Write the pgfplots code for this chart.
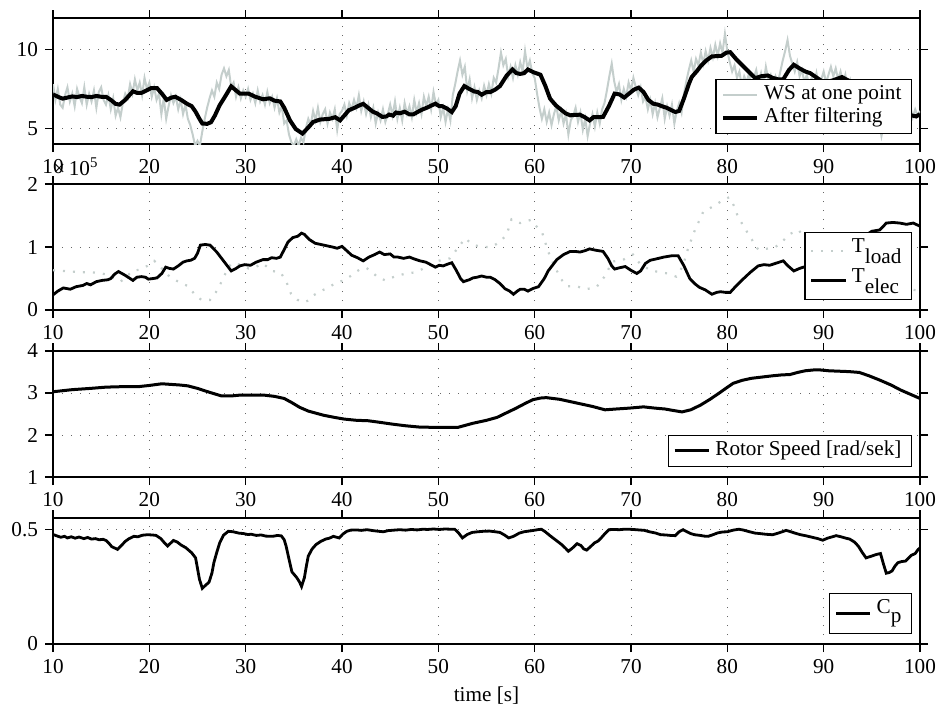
\documentclass[border=0pt]{standalone}
\usepackage{fontspec}
\setmainfont{Liberation Serif}
\usepackage{pgfplots}
\pgfplotsset{compat=1.18}
\definecolor{wsgray}{RGB}{196,206,204}
\pgfplotsset{
  panel/.style={
    scale only axis, width=433.5pt, height=63pt,
    xmin=10, xmax=100, xtick={10,20,...,100},
    tick align=outside, major tick length=4pt,
    tick style={black, line width=0.6pt},
    axis line style={line width=0.8pt},
    grid=major,
    major grid style={black!60, line width=0.5pt, dash pattern=on 0.5pt off 4pt},
    /pgf/number format/assume math mode=true,
    legend cell align=left,
    legend style={at={(rel axis cs:1,0)}, anchor=south east, xshift=-4pt, yshift=5pt,
      draw=black, line width=0.6pt, fill=white, inner xsep=2.5pt, inner ysep=2pt,
      nodes={inner xsep=2.5pt, inner ysep=1pt, text depth={}}},
  },
}
\begin{document}
\begin{tikzpicture}[font=\fontsize{10.6}{12.7}\selectfont]
\path[use as bounding box] (-26.5pt,0pt) rectangle (443.5pt,354.5pt);

% wind speed
\begin{axis}[panel, at={(0,282.5pt)}, anchor=south west, ymin=4, ymax=12, ytick={5,10}]
\addplot[wsgray, line width=1pt] coordinates {
(10,7.8)(10.25,6.8)(10.5,7.5)(10.75,6.5)(11,6.3)(11.25,7.1)(11.5,7.6)(11.75,6.7)
(12,7.2)(12.25,6.4)(12.5,7.5)(12.75,7.0)(13,6.6)(13.25,7.6)(13.5,6.5)(13.75,7.2)
(14,6.7)(14.25,7.4)(14.5,6.3)(14.75,7.3)(15,7.6)(15.25,6.8)(15.5,6.5)(15.75,7.1)
(16,6.2)(16.25,6.9)(16.5,5.8)(16.75,6.3)(17,5.7)(17.25,6.6)(17.5,7.2)(17.75,6.9)
(18,7.8)(18.25,7.2)(18.5,8.1)(18.75,7.4)(19,7.9)(19.25,7.1)(19.5,8.2)(19.75,7.5)
(20,7.9)(20.25,7.0)(20.5,7.6)(20.75,6.8)(21,7.2)(21.25,5.9)(21.5,6.9)(21.75,5.6)
(22,6.4)(22.25,7.1)(22.5,6.6)(22.75,7.0)(23,6.2)(23.25,6.8)(23.5,5.9)(23.75,6.5)
(24,5.6)(24.25,5.2)(24.5,4.6)(24.75,3.9)(25,4.2)(25.25,3.9)(25.5,4.8)(25.75,5.6)
(26,6.3)(26.25,6.9)(26.5,7.4)(26.75,7.0)(27,7.9)(27.25,7.5)(27.5,8.4)(27.75,8.8)
(28,8.3)(28.25,8.7)(28.5,7.6)(28.75,7.9)(29,7.0)(29.25,7.6)(29.5,6.9)(29.75,7.4)
(30,7.0)(30.25,7.5)(30.5,6.8)(30.75,7.2)(31,6.6)(31.25,7.4)(31.5,6.7)(31.75,7.1)
(32,6.5)(32.25,7.3)(32.5,6.6)(32.75,7.0)(33,6.3)(33.25,6.9)(33.5,6.0)(33.75,6.4)
(34,5.3)(34.25,5.5)(34.5,4.6)(34.75,4.1)(35,3.9)(35.25,4.3)(35.5,3.9)(35.75,4.4)
(36,4.1)(36.25,5.0)(36.5,5.6)(36.75,5.2)(37,6.1)(37.25,5.5)(37.5,6.3)(37.75,5.4)
(38,5.9)(38.25,6.2)(38.5,5.3)(38.75,6.0)(39,5.6)(39.25,6.2)(39.5,4.9)(39.75,5.9)
(40,6.1)(40.25,6.5)(40.5,5.8)(40.75,6.6)(41,6.2)(41.25,6.8)(41.5,6.3)(41.75,7.1)
(42,6.1)(42.25,6.7)(42.5,5.9)(42.75,6.5)(43,5.7)(43.25,6.3)(43.5,5.3)(43.75,6.0)
(44,5.5)(44.25,6.2)(44.5,5.4)(44.75,5.9)(45,6.5)(45.25,5.8)(45.5,6.7)(45.75,5.6)
(46,6.3)(46.25,5.5)(46.5,6.6)(46.75,5.9)(47,6.4)(47.25,5.7)(47.5,6.8)(47.75,6.0)
(48,6.6)(48.25,5.9)(48.5,7.0)(48.75,6.4)(49,7.0)(49.25,6.2)(49.5,7.3)(49.75,6.5)
(50,6.8)(50.25,5.7)(50.5,6.3)(50.75,5.4)(51,6.2)(51.25,5.5)(51.5,7.1)(51.75,7.8)
(52,8.6)(52.25,9.3)(52.5,8.4)(52.75,8.9)(53,7.4)(53.25,8.1)(53.5,6.9)(53.75,7.6)
(54,6.8)(54.25,7.4)(54.5,6.9)(54.75,7.7)(55,7.1)(55.25,7.8)(55.5,7.2)(55.75,8.2)
(56,7.9)(56.25,8.8)(56.5,9.8)(56.75,9.0)(57,9.4)(57.25,8.3)(57.5,8.9)(57.75,8.2)
(58,9.0)(58.25,8.4)(58.5,9.2)(58.75,8.6)(59,9.9)(59.25,8.8)(59.5,9.3)(59.75,8.5)
(60,8.2)(60.25,7.2)(60.5,6.3)(60.75,5.6)(61,6.2)(61.25,5.4)(61.5,6.0)(61.75,5.2)
(62,5.9)(62.25,6.4)(62.5,5.5)(62.75,6.1)(63,5.3)(63.25,5.9)(63.5,4.6)(63.75,5.5)
(64,5.8)(64.25,6.3)(64.5,5.4)(64.75,6.0)(65,4.9)(65.25,5.6)(65.5,4.5)(65.75,5.3)
(66,5.9)(66.25,5.1)(66.5,6.0)(66.75,5.3)(67,6.2)(67.25,6.6)(67.5,7.4)(67.75,8.3)
(68,9.1)(68.25,8.0)(68.5,7.3)(68.75,7.8)(69,6.8)(69.25,7.5)(69.5,7.0)(69.75,7.9)
(70,7.4)(70.25,8.2)(70.5,7.6)(70.75,7.1)(71,7.6)(71.25,6.7)(71.5,7.0)(71.75,6.2)
(72,6.8)(72.25,5.9)(72.5,6.6)(72.75,5.7)(73,6.3)(73.25,6.9)(73.5,5.6)(73.75,6.4)
(74,5.8)(74.25,6.5)(74.5,5.3)(74.75,6.1)(75,6.6)(75.25,6.0)(75.5,7.2)(75.75,8.0)
(76,8.7)(76.25,9.3)(76.5,8.6)(76.75,9.4)(77,9.0)(77.25,9.8)(77.5,9.1)(77.75,9.9)
(78,9.3)(78.25,10.1)(78.5,9.5)(78.75,10.3)(79,9.6)(79.25,10.4)(79.5,9.8)(79.75,11.0)
(80,9.9)(80.25,9.2)(80.5,8.6)(80.75,9.0)(81,8.2)(81.25,8.6)(81.5,7.7)(81.75,8.3)
(82,7.9)(82.25,8.5)(82.5,7.6)(82.75,8.2)(83,8.7)(83.25,7.9)(83.5,8.5)(83.75,7.8)
(84,8.9)(84.25,8.1)(84.5,8.4)(84.75,7.8)(85,8.3)(85.25,7.9)(85.5,8.6)(85.75,9.3)
(86,9.9)(86.25,10.6)(86.5,9.6)(86.75,9.1)(87,8.6)(87.25,9.2)(87.5,8.3)(87.75,8.7)
(88,7.9)(88.25,8.4)(88.5,7.7)(88.75,8.2)(89,7.8)(89.25,8.5)(89.5,7.6)(89.75,8.1)
(90,8.6)(90.25,7.9)(90.5,8.4)(90.75,8.9)(91,8.3)(91.25,8.8)(91.5,8.1)(91.75,8.6)
(92,7.9)(92.25,8.4)(92.5,7.4)(92.75,8.0)(93,7.1)(93.25,7.5)(93.5,6.6)(93.75,6.9)
(94,6.1)(94.25,6.6)(94.5,5.7)(94.75,6.1)(95,5.3)(95.25,5.8)(95.5,4.9)(95.75,5.4)
(96,4.5)(96.25,5.2)(96.5,5.7)(96.75,5.1)(97,5.9)(97.25,5.4)(97.5,6.2)(97.75,5.6)
(98,6.0)(98.25,5.5)(98.5,6.3)(98.75,5.8)(99,6.4)(99.25,5.7)(99.5,6.2)(99.75,5.8)
(100,6.1)};
\addlegendentry{WS at one point}
\addplot[black, line width=2pt] coordinates {
(10,7.15)(10.5,7.0)(11,6.88)(11.5,6.95)(12,7.02)(12.5,6.98)(13,7.05)(13.5,7.0)
(14,6.98)(14.5,7.05)(15,7.0)(15.5,7.0)(16,6.8)(16.5,6.55)(16.9,6.5)(17.5,6.8)
(18.3,7.35)(18.7,7.25)(19.2,7.25)(19.7,7.4)(20.2,7.55)(20.8,7.55)(21.3,7.2)(21.8,6.8)
(22.3,6.95)(22.7,7.0)(23.3,6.8)(23.9,6.56)(24.4,6.4)(24.8,6.05)(25.2,5.6)(25.5,5.3)
(26.0,5.28)(26.4,5.38)(26.8,5.8)(27.3,6.46)(27.9,7.05)(28.5,7.66)(29.0,7.4)(29.4,7.2)
(30.3,7.2)(31.0,7.0)(31.8,6.84)(32.5,6.9)(33.0,6.75)(33.6,6.7)(34.0,6.3)(34.6,5.5)
(35.2,4.95)(35.9,4.66)(36.5,5.05)(37.0,5.4)(37.7,5.55)(38.7,5.6)(39.3,5.7)(39.8,5.5)
(40.3,5.85)(40.7,6.14)(41.3,6.3)(41.8,6.45)(42.2,6.55)(42.7,6.3)(43.2,6.05)(43.6,5.95)
(44.2,5.72)(44.6,5.75)(44.9,5.87)(45.3,5.8)(45.6,6.0)(46.0,5.95)(46.5,6.05)(47.0,5.88)
(47.4,5.88)(47.9,6.05)(48.3,6.18)(48.8,6.3)(49.3,6.45)(49.7,6.56)(50.1,6.4)(50.4,6.4)
(50.9,6.25)(51.4,6.03)(51.8,6.4)(52.2,7.2)(52.7,7.68)(53.2,7.5)(53.7,7.34)(54.1,7.3)
(54.5,7.13)(55.0,7.3)(55.4,7.3)(55.9,7.45)(56.4,7.68)(57.1,8.35)(57.7,8.73)(58.1,8.5)
(58.5,8.45)(58.9,8.5)(59.3,8.73)(59.9,8.55)(60.6,8.4)(61.1,7.7)(61.6,6.88)(62.2,6.45)
(62.7,6.2)(63.2,5.95)(63.7,5.82)(64.2,5.85)(64.7,5.86)(65.2,5.7)(65.7,5.5)(66.1,5.7)
(66.6,5.7)(67.1,5.72)(67.7,6.4)(68.3,7.2)(68.8,7.15)(69.3,6.95)(69.8,7.2)(70.3,7.45)
(70.8,7.58)(71.3,7.3)(71.8,6.8)(72.3,6.56)(72.8,6.5)(73.2,6.4)(73.7,6.3)(74.2,6.15)
(74.6,6.03)(75.0,6.1)(75.5,6.9)(76.0,7.8)(76.3,8.25)(76.8,8.6)(77.3,8.99)(77.8,9.3)
(78.4,9.56)(78.9,9.58)(79.4,9.6)(79.9,9.8)(80.3,9.83)(80.9,9.4)(81.5,9.03)(82.2,8.6)
(82.9,8.18)(83.5,8.3)(84.2,8.35)(84.7,8.2)(85.3,8.1)(85.8,8.1)(86.4,8.7)(86.9,9.03)
(87.5,8.8)(88.1,8.6)(88.6,8.5)(89.3,8.2)(89.8,8.0)(90.3,7.93)(91.0,8.05)(91.9,8.25)
(92.5,8.05)(92.9,7.95)(93.5,7.6)(94.2,7.0)(95.0,6.4)(95.8,6.0)(96.5,5.9)(97.3,5.8)
(98.0,5.75)(98.7,5.8)(99.1,5.82)(99.6,5.75)(100,5.9)};
\addlegendentry{After filtering}
\end{axis}

% torques
\begin{axis}[panel, name=torque, at={(0,199.5pt)}, anchor=south west, ymin=0, ymax=2, ytick={0,1,2},
  legend style={row sep=0.5pt}]
\addplot[wsgray, line width=1.1pt, dash pattern=on 1pt off 4pt] coordinates {
(10,0.63)(11,0.62)(12,0.61)(13,0.6)(14,0.6)(15,0.58)(15.7,0.56)(16.3,0.5)(17,0.45)
(17.6,0.52)(18.2,0.62)(19,0.64)(19.8,0.7)(20.5,0.78)(21,0.72)(21.6,0.6)(22.2,0.52)
(23,0.45)(24,0.38)(24.7,0.25)(25.4,0.16)(26.3,0.16)(26.9,0.28)(27.4,0.42)(27.9,0.58)
(28.5,0.74)(29.5,0.72)(30.3,0.66)(31,0.68)(31.8,0.74)(32.7,0.62)(33.6,0.6)(34.2,0.46)
(34.7,0.26)(35.4,0.16)(36,0.12)(36.5,0.15)(37,0.23)(37.8,0.3)(38.6,0.36)(39.5,0.44)
(40.2,0.47)(40.9,0.54)(41.8,0.64)(42.5,0.67)(43,0.62)(43.7,0.52)(44.5,0.47)(45.6,0.54)
(46.7,0.58)(47.7,0.6)(48.7,0.68)(50,0.78)(51.2,0.82)(52.1,1.0)(52.8,1.14)(53.5,1.04)
(54.5,1.0)(55.5,1.0)(56.4,1.08)(57.1,1.2)(57.6,1.44)(58.5,1.38)(59.6,1.43)(60,1.36)
(60.8,1.22)(61.4,0.93)(61.9,0.75)(62.7,0.5)(63.3,0.38)(64.5,0.37)(65.3,0.33)(66.4,0.36)
(67.2,0.52)(68.1,0.77)(69.1,0.79)(70.2,0.88)(70.9,0.74)(72,0.63)(73,0.6)(73.8,0.58)
(74.7,0.53)(75.4,0.7)(75.8,0.92)(76.5,1.22)(77.5,1.56)(78.6,1.65)(79.6,1.75)(80.2,1.79)
(80.7,1.65)(81.1,1.48)(82.2,1.2)(83.2,0.96)(84,0.97)(85,1.0)(85.8,1.1)(86.4,1.2)
(87.4,1.27)(88,1.15)(89,1.05)(90,0.95)(91,0.88)(92,0.8)(93,0.72)(94,0.64)(95,0.55)
(96,0.48)(97,0.42)(98,0.38)(99,0.33)(100,0.3)};
\addlegendentry{T\raisebox{-5.5pt}{load}}
\addplot[black, line width=1.4pt] coordinates {
(10,0.24)(10.5,0.3)(11.07,0.35)(11.8,0.33)(12.4,0.37)(13.1,0.39)(13.5,0.42)(13.9,0.4)
(14.5,0.45)(15.1,0.47)(15.7,0.48)(16,0.5)(16.4,0.57)(16.8,0.61)(17.5,0.55)(18.3,0.47)
(18.7,0.52)(19.2,0.53)(19.6,0.52)(19.9,0.49)(20.4,0.5)(20.8,0.51)(21.3,0.58)(21.7,0.68)
(22.1,0.66)(22.5,0.65)(23,0.7)(23.5,0.76)(23.9,0.78)(24.3,0.79)(24.7,0.82)(25,0.9)
(25.3,1.03)(25.8,1.04)(26.3,1.03)(27,0.92)(27.8,0.76)(28.5,0.62)(29,0.66)(29.4,0.7)
(29.9,0.72)(30.5,0.71)(31.1,0.76)(31.8,0.8)(32.3,0.8)(32.7,0.83)(33.2,0.82)(33.6,0.84)
(33.9,0.93)(34.4,1.08)(34.9,1.15)(35.4,1.17)(35.8,1.22)(36.1,1.2)(36.6,1.12)(37.2,1.06)
(37.8,1.04)(38.4,1.02)(39,1.0)(39.5,0.98)(40,1.01)(40.5,0.94)(41,0.87)(41.6,0.83)
(42.2,0.78)(42.8,0.84)(43.4,0.88)(43.9,0.92)(44.4,0.88)(45,0.89)(45.4,0.84)(45.8,0.84)
(46.4,0.82)(47,0.84)(47.5,0.81)(48.1,0.78)(48.7,0.76)(49.2,0.72)(49.7,0.68)(50.1,0.71)
(50.5,0.7)(51,0.73)(51.4,0.75)(51.9,0.62)(52.3,0.5)(52.6,0.45)(53.2,0.48)(53.6,0.51)
(54,0.52)(54.5,0.54)(55,0.52)(55.4,0.52)(55.9,0.48)(56.4,0.42)(56.9,0.34)(57.4,0.3)
(57.8,0.25)(58.2,0.3)(58.5,0.33)(58.9,0.33)(59.3,0.3)(59.8,0.34)(60.4,0.37)(61,0.5)
(61.4,0.62)(61.8,0.7)(62.3,0.8)(63,0.88)(63.7,0.93)(64.2,0.93)(64.7,0.92)(65.2,0.94)
(65.7,0.97)(66.3,0.95)(67.1,0.93)(67.6,0.82)(68,0.7)(68.3,0.65)(68.8,0.67)(69.4,0.69)
(70,0.63)(70.6,0.58)(71,0.62)(71.5,0.74)(72,0.79)(72.6,0.81)(73.4,0.84)(74.2,0.86)
(74.9,0.86)(75.5,0.7)(76.1,0.5)(76.6,0.42)(77.1,0.36)(77.7,0.32)(78.4,0.25)(78.9,0.28)
(79.3,0.29)(79.8,0.28)(80.3,0.28)(80.9,0.38)(81.7,0.5)(82.4,0.6)(83.2,0.7)(83.8,0.72)
(84.4,0.71)(85,0.74)(85.4,0.76)(85.8,0.78)(86.3,0.7)(86.9,0.62)(87.5,0.66)(88.1,0.69)
(88.6,0.74)(89.2,0.78)(90,0.84)(91,0.93)(92,1.02)(93,1.1)(94,1.17)(94.7,1.22)
(95,1.25)(95.8,1.27)(96.2,1.33)(96.5,1.38)(97.2,1.39)(97.9,1.38)(98.6,1.36)(99.3,1.38)
(100,1.33)};
\addlegendentry{T\raisebox{-5.5pt}{elec}}
\end{axis}
\node[anchor=base west, inner sep=0pt] at ([yshift=4.5pt]torque.north west) {×\,10\textsuperscript{5}};

% rotor speed
\begin{axis}[panel, at={(0,116pt)}, anchor=south west, ymin=1, ymax=4, ytick={1,2,3,4}]
\addplot[black, line width=1.5pt] coordinates {
(10,3.03)(12,3.08)(13.9,3.11)(15.5,3.14)(17,3.15)(18.8,3.15)(20,3.18)(21.3,3.22)
(23.2,3.19)(24,3.17)(25,3.11)(26.2,3.02)(27.5,2.93)(28.5,2.93)(29.4,2.95)(31.9,2.95)
(33,2.92)(34,2.87)(34.8,2.77)(35.6,2.66)(36.5,2.57)(38.1,2.47)(39.2,2.42)(40.2,2.38)
(41.5,2.35)(42.7,2.34)(44,2.3)(45.2,2.26)(46.6,2.22)(48,2.19)(49.9,2.18)(52,2.18)
(52.8,2.23)(53.6,2.28)(55,2.35)(56.1,2.42)(57,2.52)(58,2.63)(59,2.75)(59.8,2.84)
(60.6,2.88)(61.2,2.89)(62.6,2.85)(63.8,2.79)(64.8,2.74)(66,2.68)(67.3,2.6)(68.5,2.62)
(69.8,2.64)(71.3,2.67)(72.5,2.64)(73.5,2.62)(74.5,2.58)(75.3,2.55)(76.2,2.6)(77.2,2.71)
(78.2,2.85)(79.1,2.99)(79.9,3.12)(80.6,3.23)(81.5,3.3)(82.5,3.35)(83.6,3.38)(84.7,3.41)
(85.6,3.43)(86.5,3.44)(87.3,3.49)(88.1,3.53)(89,3.55)(89.6,3.55)(90.5,3.53)(91.5,3.52)
(92.6,3.51)(93.7,3.49)(94.7,3.41)(95.8,3.31)(97,3.19)(98,3.07)(99,2.97)(100,2.87)};
\addlegendentry{Rotor Speed [rad/sek]}
\end{axis}

% power coefficient
\begin{axis}[panel, at={(0,32.5pt)}, anchor=south west, ymin=0, ymax=0.55, ytick={0,0.5},
  xlabel={time [s]}]
\addplot[black, line width=1.4pt] coordinates {
(10,0.478)(10.4,0.472)(10.8,0.466)(11.2,0.47)(11.5,0.463)(11.9,0.468)(12.3,0.462)(12.7,0.467)
(13.2,0.46)(13.6,0.465)(14,0.458)(14.4,0.46)(14.8,0.455)(15.2,0.457)(15.5,0.452)(15.8,0.44)
(16.1,0.425)(16.7,0.413)(17.1,0.43)(17.5,0.448)(17.9,0.46)(18.4,0.47)(18.8,0.468)(19.3,0.475)
(19.8,0.477)(20.3,0.476)(20.7,0.474)(21.2,0.46)(21.6,0.44)(21.9,0.428)(22.2,0.44)(22.5,0.452)
(22.9,0.445)(23.3,0.432)(23.8,0.42)(24.4,0.398)(24.8,0.376)(25,0.33)(25.2,0.283)(25.5,0.243)
(25.8,0.255)(26.2,0.27)(26.5,0.31)(26.7,0.355)(27,0.4)(27.3,0.441)(27.7,0.475)(28.2,0.492)
(28.7,0.49)(29.3,0.484)(29.8,0.482)(30.2,0.478)(30.6,0.479)(31.1,0.474)(31.6,0.476)(32.1,0.471)
(32.8,0.47)(33.3,0.474)(33.7,0.472)(34,0.455)(34.2,0.427)(34.5,0.37)(34.8,0.315)(35.3,0.29)
(35.6,0.27)(35.8,0.251)(36.1,0.29)(36.3,0.34)(36.5,0.384)(36.9,0.415)(37.3,0.434)(37.8,0.448)
(38.3,0.458)(38.7,0.462)(39.1,0.47)(39.7,0.463)(40.1,0.48)(40.5,0.492)(40.9,0.497)(41.5,0.498)
(42,0.496)(42.6,0.499)(43.2,0.495)(43.8,0.492)(44.3,0.49)(44.8,0.495)(45.4,0.497)(46,0.499)
(46.6,0.497)(47.2,0.5)(47.8,0.498)(48.4,0.501)(48.9,0.5)(49.5,0.502)(50.1,0.5)(50.7,0.502)
(51.3,0.501)(51.7,0.501)(52.1,0.485)(52.5,0.463)(53,0.478)(53.5,0.487)(54.1,0.49)(54.7,0.492)
(55.3,0.493)(55.9,0.49)(56.4,0.487)(56.9,0.475)(57.3,0.463)(57.8,0.47)(58.4,0.484)(58.9,0.49)
(59.4,0.493)(59.9,0.496)(60.3,0.499)(60.7,0.501)(61.1,0.49)(61.5,0.476)(61.9,0.463)(62.4,0.447)
(62.8,0.434)(63.2,0.418)(63.5,0.405)(63.9,0.418)(64.4,0.438)(64.8,0.43)(65.1,0.415)(65.4,0.41)
(65.8,0.425)(66.2,0.441)(66.6,0.45)(66.9,0.463)(67.3,0.482)(67.7,0.499)(68.2,0.5)(68.8,0.499)
(69.3,0.501)(69.7,0.501)(70.2,0.5)(70.8,0.498)(71.4,0.496)(71.9,0.49)(72.5,0.485)(73.1,0.477)
(73.6,0.476)(74.1,0.474)(74.6,0.473)(75,0.49)(75.4,0.499)(75.8,0.49)(76.2,0.482)(76.6,0.477)
(77.2,0.474)(77.6,0.471)(78,0.47)(78.5,0.477)(79,0.485)(79.5,0.489)(80,0.49)(80.6,0.497)
(81.2,0.501)(81.7,0.497)(82.3,0.49)(82.9,0.484)(83.4,0.482)(84,0.479)(84.7,0.477)(85.2,0.483)
(85.7,0.49)(86.1,0.496)(86.6,0.49)(87.1,0.483)(87.6,0.477)(88.2,0.472)(88.8,0.466)(89.4,0.46)
(89.9,0.453)(90.4,0.462)(90.9,0.468)(91.3,0.473)(91.8,0.468)(92.3,0.462)(92.7,0.458)(93.2,0.445)
(93.6,0.427)(94,0.4)(94.4,0.376)(94.7,0.38)(95,0.384)(95.4,0.39)(95.9,0.395)(96.2,0.35)
(96.5,0.309)(96.8,0.312)(97.1,0.319)(97.4,0.34)(97.7,0.355)(98.1,0.36)(98.5,0.362)(98.8,0.375)
(99.1,0.387)(99.5,0.395)(99.8,0.412)(100,0.42)};
\addlegendentry{C\raisebox{-4.5pt}{p}}
\end{axis}
\end{tikzpicture}
\end{document}
